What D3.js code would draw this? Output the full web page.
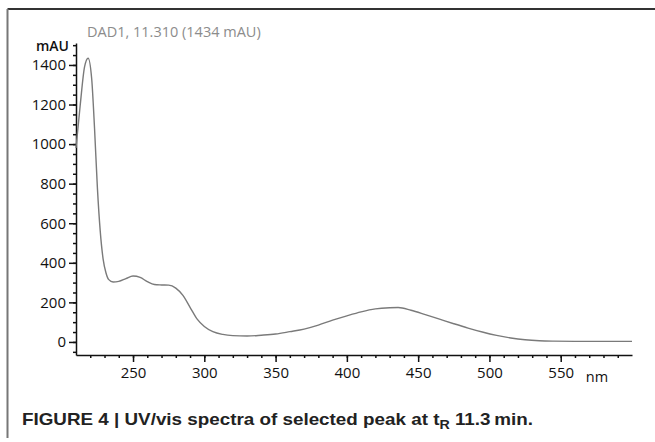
<!DOCTYPE html>
<html>
<head>
<meta charset="utf-8">
<script src="https://cdn.jsdelivr.net/npm/d3@7"></script>
<style>
  body { margin: 0; background: #fff; }
  svg { display: block; }
</style>
</head>
<body>
<svg id="chart" width="655" height="442"></svg>
<script>
// spectrum (nm, mAU)
const wavelengths = [210, 213, 216, 218.5, 221, 223, 225, 227, 229, 231, 233, 236, 240, 245, 250,
  255, 260, 265, 270, 275, 280, 285, 290, 295, 300, 306, 313, 320, 330, 340, 350, 360, 370,
  380, 390, 400, 410, 420, 430, 436, 445, 455, 465, 475, 485, 495, 505, 515, 525, 535, 545,
  560, 580, 600];
const absorbance = [980, 1200, 1390, 1434, 1330, 1080, 780, 560, 420, 350, 315, 303, 306, 320, 333,
  326, 305, 290, 288, 287, 272, 235, 175, 115, 78, 52, 38, 32, 30, 34, 40, 52, 65,
  85, 110, 132, 152, 167, 173, 174, 160, 138, 115, 92, 70, 50, 33, 20, 11, 6, 4,
  3, 3, 3];

const xTicks = [250, 300, 350, 400, 450, 500, 550];
const yTicks = [0, 200, 400, 600, 800, 1000, 1200, 1400];
const titleText = "DAD1, 11.310 (1434 mAU)";

const data = wavelengths.map((w, i) => ({ nm: w, v: absorbance[i] }));

const svg = d3.select("#chart");
const plotLeft = 76, plotRight = 632, plotTop = 43, plotBottom = 355;

const x = d3.scaleLinear().domain([210, 600]).range([plotLeft, plotRight]);
const y = d3.scaleLinear().domain([-66, 1511]).range([plotBottom, plotTop]);

const tickFont = "'Open Sans', sans-serif";

// figure frame (top + left edge only)
svg.append("line").attr("x1", 7.5).attr("x2", 655).attr("y1", 9).attr("y2", 9)
  .attr("stroke", "#333").attr("stroke-width", 2);
svg.append("line").attr("x1", 7.5).attr("x2", 7.5).attr("y1", 9).attr("y2", 438)
  .attr("stroke", "#777").attr("stroke-width", 2);

// x axis: minor ticks every 10 nm, major every 50
const xMinor = d3.axisBottom(x).tickValues(d3.range(220, 600, 10)).tickSize(3).tickFormat("");
svg.append("g").attr("transform", `translate(0,${plotBottom})`).call(xMinor)
  .call(g => g.select(".domain").remove());
const xAxis = d3.axisBottom(x).tickValues(xTicks).tickSize(7).tickPadding(5)
  .tickSizeOuter(0).tickFormat(d3.format("d"));
const xg = svg.append("g").attr("transform", `translate(0,${plotBottom})`).call(xAxis);

// y axis: minor every 50
const yMinor = d3.axisLeft(y).tickValues(d3.range(-50, 1501, 50)).tickSize(3).tickFormat("");
svg.append("g").attr("transform", `translate(${plotLeft},0)`).call(yMinor)
  .call(g => g.select(".domain").remove());
const yAxis = d3.axisLeft(y).tickValues(yTicks).tickSize(7).tickPadding(3)
  .tickSizeOuter(0).tickFormat(d3.format("d"));
const yg = svg.append("g").attr("transform", `translate(${plotLeft},0)`).call(yAxis);

svg.selectAll(".tick line, .domain").attr("stroke", "#111").attr("stroke-width", 1.5);
[xg, yg].forEach(g => g.selectAll("text")
  .attr("font-family", tickFont).attr("font-size", 15).attr("fill", "#111"));

// axis unit labels
svg.append("text").attr("x", 69).attr("y", 51).attr("text-anchor", "end")
  .attr("font-family", tickFont).attr("font-size", 14).attr("font-weight", 600).attr("fill", "#111")
  .text("mAU");
svg.append("text").attr("x", 597).attr("y", 382).attr("text-anchor", "middle")
  .attr("font-family", tickFont).attr("font-size", 14.5).attr("fill", "#111")
  .text("nm");

// spectrum title
svg.append("text").attr("x", 87).attr("y", 37)
  .attr("font-family", tickFont).attr("font-size", 14.5).attr("fill", "#8c8c8c")
  .text(titleText);

// spectrum line
const line = d3.line().x(d => x(d.nm)).y(d => y(d.v)).curve(d3.curveMonotoneX);
svg.append("path").datum(data)
  .attr("fill", "none").attr("stroke", "#7a7a7a").attr("stroke-width", 1.4)
  .attr("d", line);

// caption
const cap = svg.append("text").attr("x", 22).attr("y", 425)
  .attr("font-family", "'Liberation Sans', Arial, sans-serif").attr("font-weight", "bold")
  .attr("font-size", 16.5).attr("fill", "#222")
  .attr("textLength", 511).attr("lengthAdjust", "spacingAndGlyphs");
cap.append("tspan").text("FIGURE 4 | UV/vis spectra of selected peak at t");
cap.append("tspan").attr("font-size", 12.5).attr("dy", 4).text("R");
cap.append("tspan").attr("dy", -4).text(" 11.3\u2009min.");
</script>
</body>
</html>
